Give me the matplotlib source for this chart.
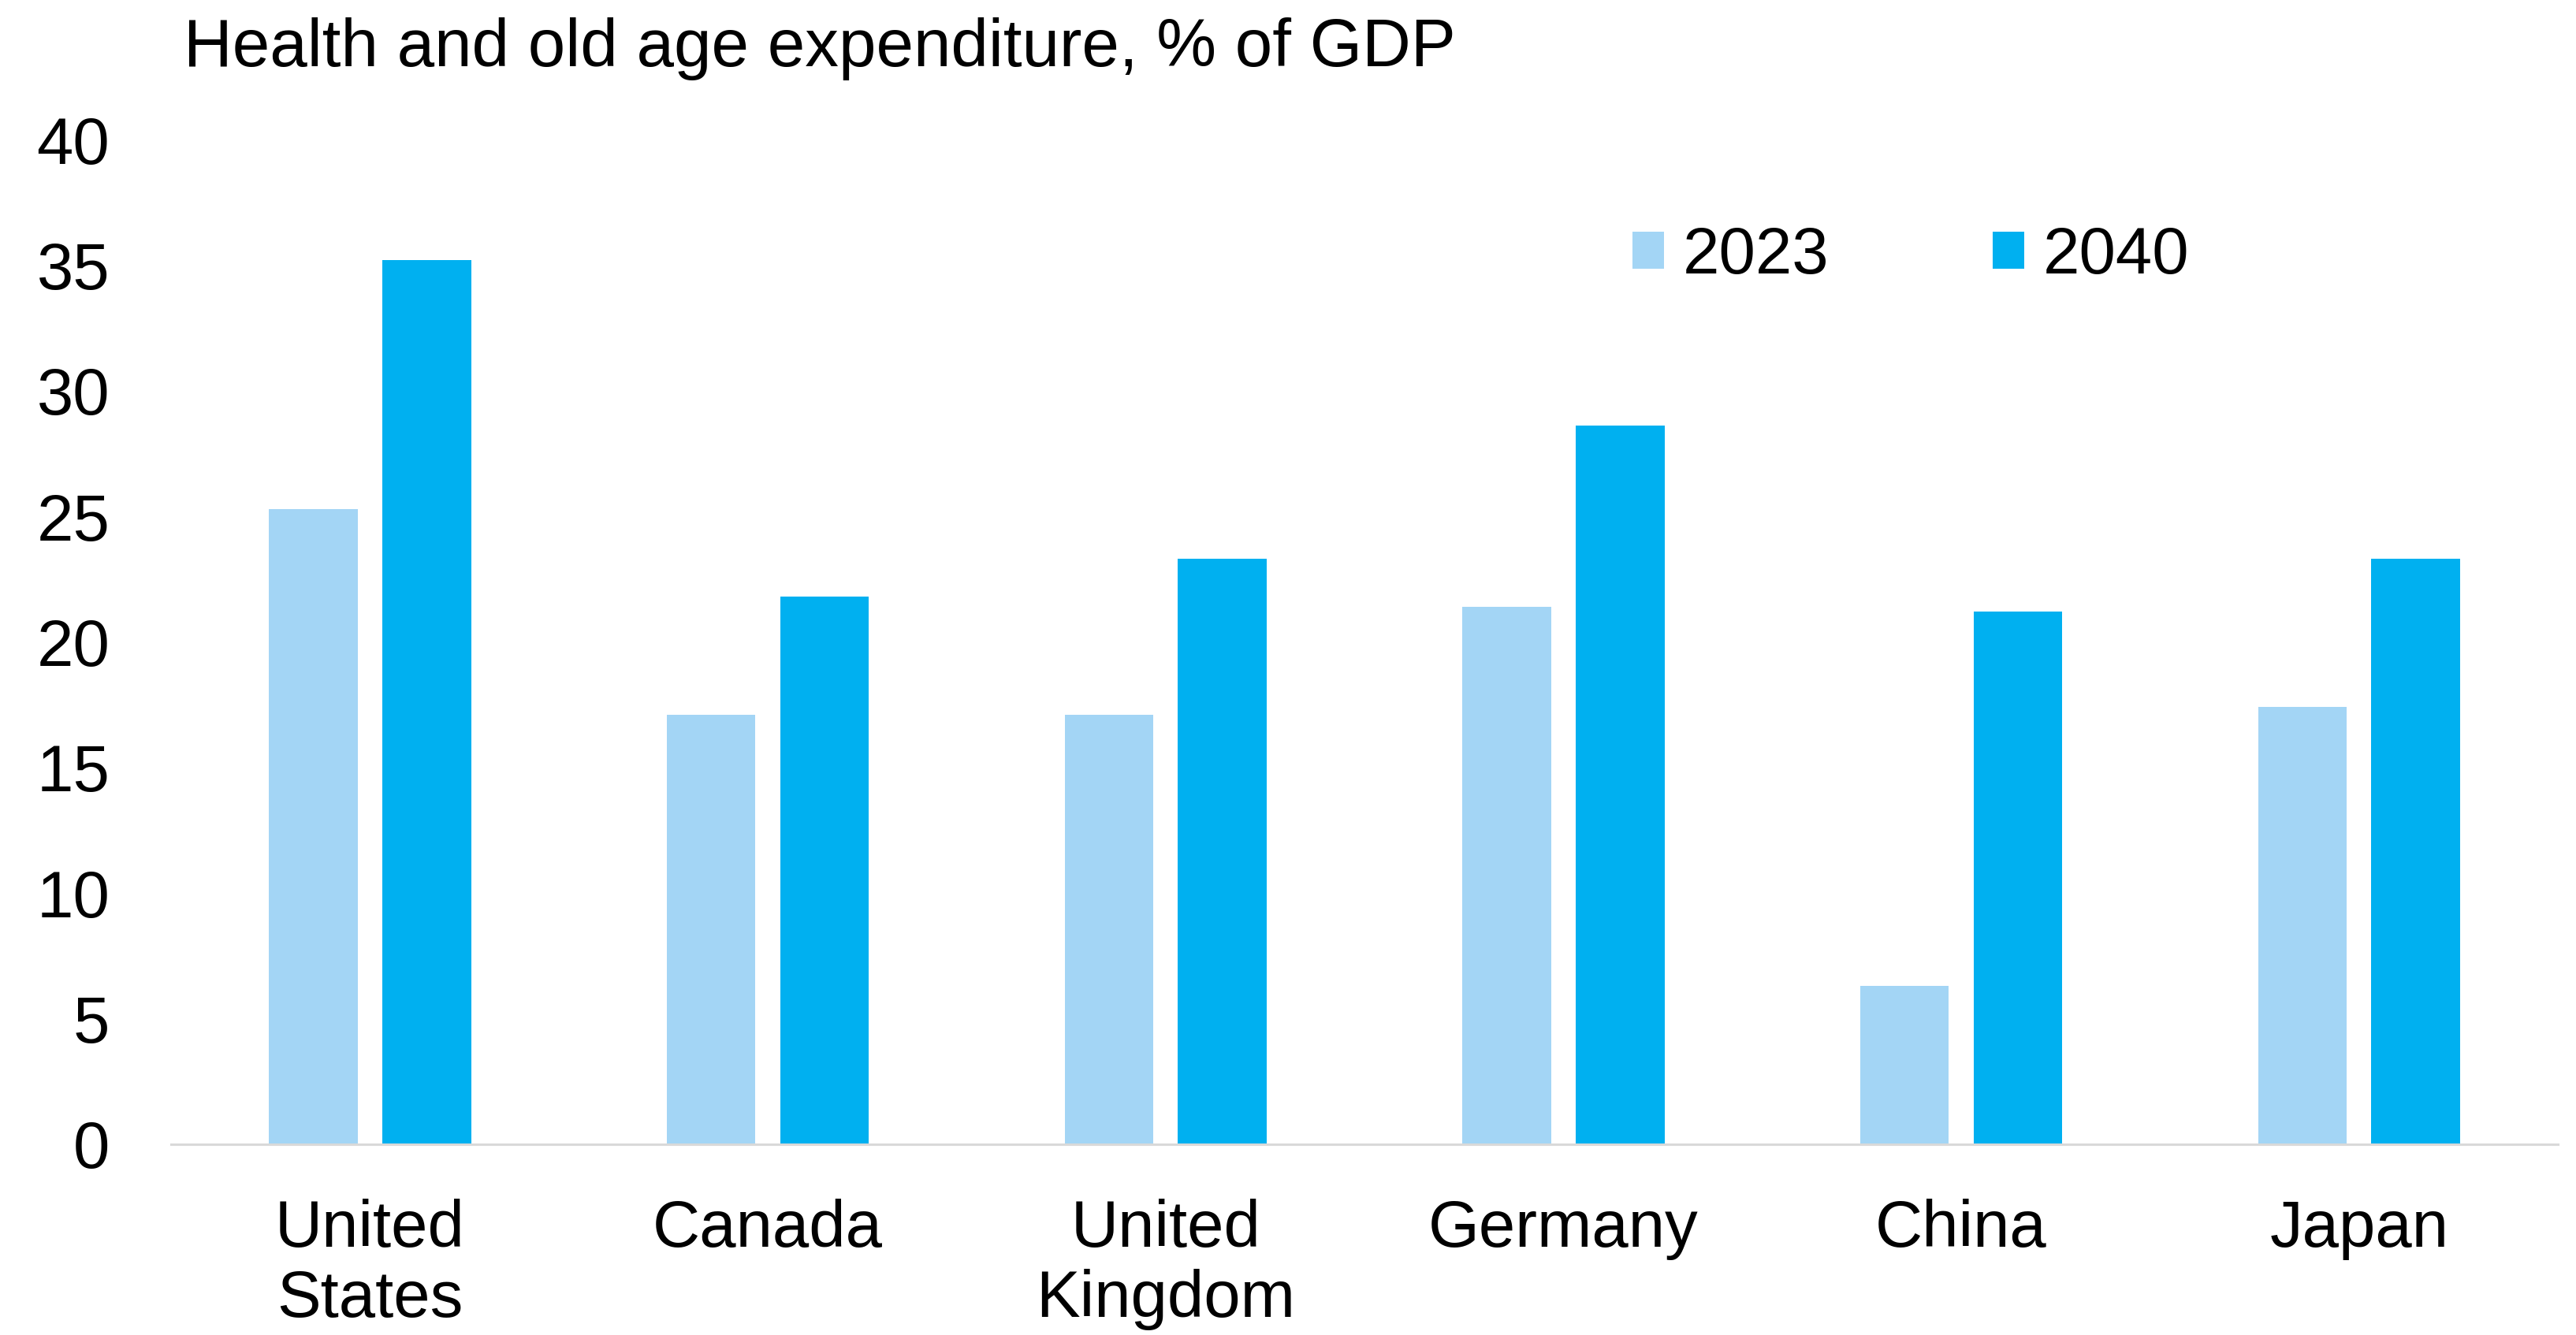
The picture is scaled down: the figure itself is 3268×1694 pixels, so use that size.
import matplotlib.pyplot as plt
import numpy as np

plt.rcParams['font.family'] = ['Liberation Sans', 'DejaVu Sans']

countries = ["United\nStates", "Canada", "United\nKingdom", "Germany", "China", "Japan"]
years = ["2023", "2040"]
vals_2023 = [25.3, 17.1, 17.1, 21.4, 6.3, 17.4]
vals_2040 = [35.2, 21.8, 23.3, 28.6, 21.2, 23.3]
y_ticks = [0, 5, 10, 15, 20, 25, 30, 35, 40]

col_light = "#A3D5F5"
col_dark = "#00B0F0"
fs = 60

fig = plt.figure(figsize=(32.68, 16.94), dpi=100)
ax = fig.add_axes([0.0664, 0.1429, 0.9266, 0.7526])

x = np.arange(len(countries))
w = 0.223
off = 0.1425
ax.bar(x - off, vals_2023, w, color=col_light, label=years[0])
ax.bar(x + off, vals_2040, w, color=col_dark, label=years[1])

ax.set_xlim(-0.5, len(countries) - 0.5)
ax.set_ylim(0, 40)
ax.set_yticks(y_ticks)
ax.set_xticks(x)
ax.set_xticklabels(countries, linespacing=1.17)

for s in ['top', 'right', 'left']:
    ax.spines[s].set_visible(False)
ax.spines['bottom'].set_color("#D9D9D9")
ax.spines['bottom'].set_linewidth(2.2)

ax.tick_params(axis='y', length=0, pad=56, labelsize=fs)
ax.tick_params(axis='x', length=0, pad=50, labelsize=fs)

# chart title in the top-left corner
fig.text(233 / 3268, 1 - 84 / 1694, "Health and old age expenditure, % of GDP",
         fontsize=61.5, va='baseline', ha='left')

leg = ax.legend(loc='center left', bbox_to_anchor=(2071 / 3268, 1 - 325 / 1694),
                bbox_transform=fig.transFigure, ncol=2, frameon=False,
                fontsize=fs, handlelength=0.48, handleheight=0.48,
                handletextpad=0.28, columnspacing=2.5, borderpad=0, borderaxespad=0)

fig.savefig("out.png", dpi=100)
